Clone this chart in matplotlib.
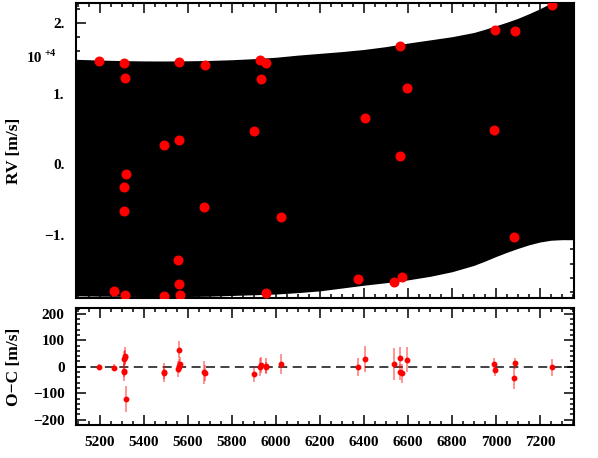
import matplotlib
matplotlib.use('Agg')
import matplotlib.pyplot as plt
from matplotlib.ticker import MultipleLocator, FuncFormatter

# Data
# time (days), RV (m/s), residual O-C (m/s), residual error (m/s)
times = [5195, 5265, 5308, 5310, 5311, 5312, 5316, 5319, 5492, 5493,
         5557, 5558, 5560, 5561, 5564, 5672, 5676, 5900, 5926, 5930,
         5953, 5955, 6023, 6374, 6403, 6536, 6562, 6564, 6572, 6594,
         6992, 6996, 7083, 7086, 7254]
rv = [14650, -17900, -6600, -3200, 14300, -18500, 12200, -1400, 2700, -18600,
      -13500, -16900, 3400, 14500, -18400, -6000, 14000, 4800, 14800, 12100,
      14400, -18200, -7400, -16200, 6500, -16600, 1200, 16700, -15850, 10850,
      4870, 19000, -10200, 18800, 22500]
resid = [0, -3, -15, 30, -20, 40, 37, -122, -20, -23,
         -9, 65, 4, -2, 10, -21, -23, -29, 0, 7,
         2, -2, 11, 0, 29, 11, 35, -20, -24, 26,
         10, -13, -44, 13, -1]
resid_err = [11, 14, 25, 30, 35, 33, 25, 48, 36, 25,
             30, 31, 25, 20, 28, 43, 30, 30, 35, 30,
             30, 20, 38, 35, 48, 60, 38, 30, 36, 47,
             25, 20, 39, 20, 32]

# envelope of the dense model curves (m/s)
env_t = [5090, 5200, 5300, 5400, 5500, 5600, 5700, 5800, 5900, 6000, 6100, 6200,
         6300, 6400, 6500, 6600, 6700, 6800, 6900, 6950, 7000, 7050, 7100, 7150,
         7200, 7250, 7300, 7355]
env_hi = [14860, 14750, 14680, 14630, 14620, 14650, 14700, 14800, 14950, 15150, 15450, 15700,
          15950, 16250, 16650, 17150, 17600, 18050, 18650, 19100, 19600, 20100, 20650, 21300,
          22000, 22800, 23600, 24500]
env_lo = [-18550, -18600, -18620, -18650, -18660, -18650, -18600, -18500, -18400, -18300, -18100, -17850,
          -17450, -17050, -16700, -16300, -15800, -15150, -14250, -13650, -13000, -12400, -11850, -11350,
          -10950, -10700, -10620, -10620]

plt.rcParams['font.family'] = ['Liberation Serif', 'DejaVu Serif']
plt.rcParams['font.weight'] = 'bold'
plt.rcParams['axes.linewidth'] = 1.5

W, H = 598, 458
fig = plt.figure(figsize=(W / 100, H / 100), dpi=100)
left, right = 75.7, 574
ax1 = fig.add_axes([left / W, 1 - 298.3 / H, (right - left) / W, (298.3 - 3.3) / H])
ax2 = fig.add_axes([left / W, 1 - 425 / H, (right - left) / W, (425 - 308) / H])

# top panel
ax1.fill_between(env_t, env_lo, env_hi, color='black', lw=0, zorder=1)
ax1.plot(times, rv, 'o', color='red', ms=6.2, mec='red', zorder=3)
ax1.set_xlim(5090, 7355)
ax1.set_ylim(-18900, 22770)
ax1.yaxis.set_major_locator(MultipleLocator(10000))
ax1.yaxis.set_minor_locator(MultipleLocator(2000))
ax1.yaxis.set_major_formatter(FuncFormatter(
    lambda v, p: ('%d.' % round(v / 1e4)).replace('-', '\u2212')))
ax1.set_ylabel('RV [m/s]', fontsize=12.5, fontweight='bold')
ax1.yaxis.set_label_coords(-0.108, 0.5)
fig.text(27 / W, 1 - 62 / H, '10', fontsize=11, fontweight='bold', va='baseline')
fig.text(44 / W, 1 - 56 / H, '+4', fontsize=7.5, fontweight='bold', va='baseline')

# bottom panel
ax2.axhline(0, color='#333333', lw=1.3, ls=(0, (5, 3)), zorder=1)
ax2.errorbar(times, resid, yerr=resid_err, fmt='none', ecolor='red', elinewidth=1.3,
             alpha=0.45, capsize=0, zorder=2)
ax2.plot(times, resid, 'o', color='red', ms=3.2, mec='red', zorder=3)
ax2.set_xlim(5090, 7355)
ax2.set_ylim(-220, 222)
ax2.yaxis.set_major_locator(MultipleLocator(100))
ax2.yaxis.set_minor_locator(MultipleLocator(20))
ax2.yaxis.set_major_formatter(FuncFormatter(lambda v, p: ('%d' % v).replace('-', '\u2212')))
ax2.set_ylabel('O\u2212C [m/s]', fontsize=12.5, fontweight='bold')
ax2.yaxis.set_label_coords(-0.108, 0.5)

for ax in (ax1, ax2):
    ax.xaxis.set_major_locator(MultipleLocator(200))
    ax.xaxis.set_minor_locator(MultipleLocator(50))
    ax.tick_params(which='both', direction='in', top=True, right=True, width=1.1)
    ax.tick_params(which='major', length=7.5, labelsize=11, pad=8)
    ax.tick_params(which='minor', length=3.2)
    for lab in ax.get_xticklabels() + ax.get_yticklabels():
        lab.set_fontweight('bold')
ax1.tick_params(labelbottom=False)

fig.savefig('out.png', dpi=100)
